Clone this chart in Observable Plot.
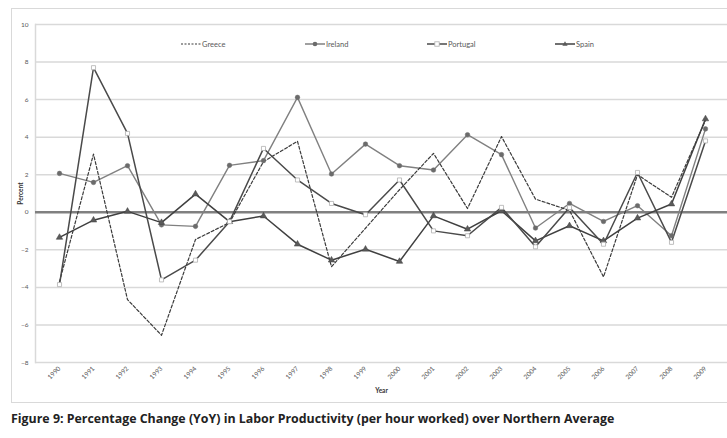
<!DOCTYPE html>
<html><head><meta charset="utf-8">
<script src="https://cdn.jsdelivr.net/npm/d3@7"></script>
<script src="https://cdn.jsdelivr.net/npm/@observablehq/plot@0.6"></script>
<style>
body{margin:0;width:727px;height:438px;overflow:hidden;background:#fff;position:relative;font-family:Lato,"Liberation Sans",sans-serif}
#frame{position:absolute;left:11px;top:8px;width:730px;height:395px;border:1px solid #d9d9d9;box-sizing:border-box}
#chart{position:absolute;left:0;top:0}
.leg{position:absolute;top:39px;height:10px;display:flex;align-items:center;font-size:7.5px;color:#595959;white-space:nowrap}
.leg svg{display:block;margin-right:1px}
#caption{position:absolute;left:11px;top:410px;font-family:"Open Sans",Lato,sans-serif;font-weight:bold;font-size:12.4px;color:#222;white-space:nowrap}
svg g[aria-label="y-axis label"], svg g[aria-label="x-axis label"]{font-weight:bold;fill:#333}
</style></head>
<body>
<div id="frame"></div>
<div id="chart"></div>
<div id="legend"></div>
<div id="caption">Figure 9: Percentage Change (YoY) in Labor Productivity (per hour worked) over Northern Average</div>
<script>
const years = ["1990","1991","1992","1993","1994","1995","1996","1997","1998","1999","2000","2001","2002","2003","2004","2005","2006","2007","2008","2009"];
const greece   = [-3.7, 3.1, -4.65, -6.55, -1.45, -0.55, 2.7, 3.78, -2.9, -0.85, 1.2, 3.14, 0.2, 4.03, 0.7, 0.1, -3.44, 2.0, 0.8, 4.9];
const ireland  = [2.07, 1.59, 2.48, -0.67, -0.75, 2.5, 2.75, 6.12, 2.04, 3.63, 2.48, 2.25, 4.13, 3.07, -0.84, 0.47, -0.49, 0.35, -1.25, 4.44];
const portugal = [-3.85, 7.7, 4.2, -3.6, -2.55, -0.5, 3.4, 1.72, 0.47, -0.13, 1.72, -0.99, -1.25, 0.26, -1.84, 0.25, -1.7, 2.12, -1.6, 3.8];
const spain    = [-1.34, -0.42, 0.05, -0.55, 0.97, -0.5, -0.2, -1.7, -2.55, -1.97, -2.62, -0.19, -0.9, 0.08, -1.52, -0.72, -1.52, -0.31, 0.44, 4.97];
const countries = ["Greece","Ireland","Portugal","Spain"];
const yTicks = [-8,-6,-4,-2,0,2,4,6,8,10];

const seriesValues = {Greece: greece, Ireland: ireland, Portugal: portugal, Spain: spain};
const rows = countries.flatMap(c => years.map((y, i) => ({country: c, year: y, value: seriesValues[c][i]})));
const of = c => rows.filter(d => d.country === c);

const chart = Plot.plot({
  width: 727, height: 400,
  marginLeft: 35, marginRight: 0, marginTop: 24, marginBottom: 38,
  style: {fontFamily: "Lato, 'Liberation Sans', sans-serif", fontSize: "6.5px", color: "#595959", background: "transparent", overflow: "visible"},
  x: {type: "point", domain: years, padding: 0.5, insetRight: -2},
  y: {domain: [-8, 10]},
  marks: [
    Plot.gridY(yTicks, {stroke: "#d9d9d9", strokeOpacity: 1, strokeWidth: 1.5}),
    Plot.frame({anchor: "left", stroke: "#d9d9d9", strokeWidth: 1.5}),
    Plot.ruleY([0], {stroke: "#808080", strokeWidth: 2.5}),
    Plot.axisY(yTicks, {tickSize: 0, tickPadding: 7, label: "Percent", labelAnchor: "center", labelArrow: "none", labelOffset: 17}),
    Plot.axisX({tickSize: 0, tickRotate: -45, tickPadding: 5, label: "Year", labelAnchor: "center", labelArrow: "none", labelOffset: 30}),
    Plot.line(of("Ireland"), {x: "year", y: "value", stroke: "#808080", strokeWidth: 1.4}),
    Plot.line(of("Greece"), {x: "year", y: "value", stroke: "#3a3a3a", strokeWidth: 1.2, strokeDasharray: "3,2"}),
    Plot.line(of("Spain"), {x: "year", y: "value", stroke: "#404040", strokeWidth: 1.5}),
    Plot.line(of("Portugal"), {x: "year", y: "value", stroke: "#4a4a4a", strokeWidth: 1.5}),
    Plot.dot(of("Ireland"), {x: "year", y: "value", symbol: "circle", r: 2.3, fill: "#6b6b6b", stroke: "#6b6b6b", strokeWidth: 0.5}),
    Plot.dot(of("Spain"), {x: "year", y: "value", symbol: "triangle", r: 2.4, fill: "#5a5a5a", stroke: "#404040", strokeWidth: 0.5}),
    Plot.dot(of("Portugal"), {x: "year", y: "value", symbol: "square", r: 2.3, fill: "#ffffff", stroke: "#b0b0b0", strokeWidth: 0.8})
  ]
});
document.getElementById("chart").appendChild(chart);

// legend
const legendPos = {Greece: 181, Ireland: 305, Portugal: 427, Spain: 555};
const swatch = {
  Greece: '<line x1="0" y1="4" x2="20" y2="4" stroke="#3a3a3a" stroke-width="1.2" stroke-dasharray="2,1.5"/>',
  Ireland: '<line x1="0" y1="4" x2="20" y2="4" stroke="#808080" stroke-width="1.5"/><circle cx="10" cy="4" r="2.3" fill="#6b6b6b"/>',
  Portugal: '<line x1="0" y1="4" x2="20" y2="4" stroke="#4a4a4a" stroke-width="1.5"/><rect x="7.8" y="1.8" width="4.4" height="4.4" fill="#fff" stroke="#b0b0b0" stroke-width="0.8"/>',
  Spain: '<line x1="0" y1="4" x2="20" y2="4" stroke="#404040" stroke-width="1.5"/><path d="M10,1.2L12.6,5.8H7.4Z" fill="#5a5a5a"/>'
};
const legend = document.getElementById("legend");
for (const c of countries) {
  const el = document.createElement("div");
  el.className = "leg";
  el.style.left = legendPos[c] + "px";
  el.innerHTML = '<svg width="20" height="8">' + swatch[c] + '</svg><span>' + c + '</span>';
  legend.appendChild(el);
}
</script>
</body></html>
